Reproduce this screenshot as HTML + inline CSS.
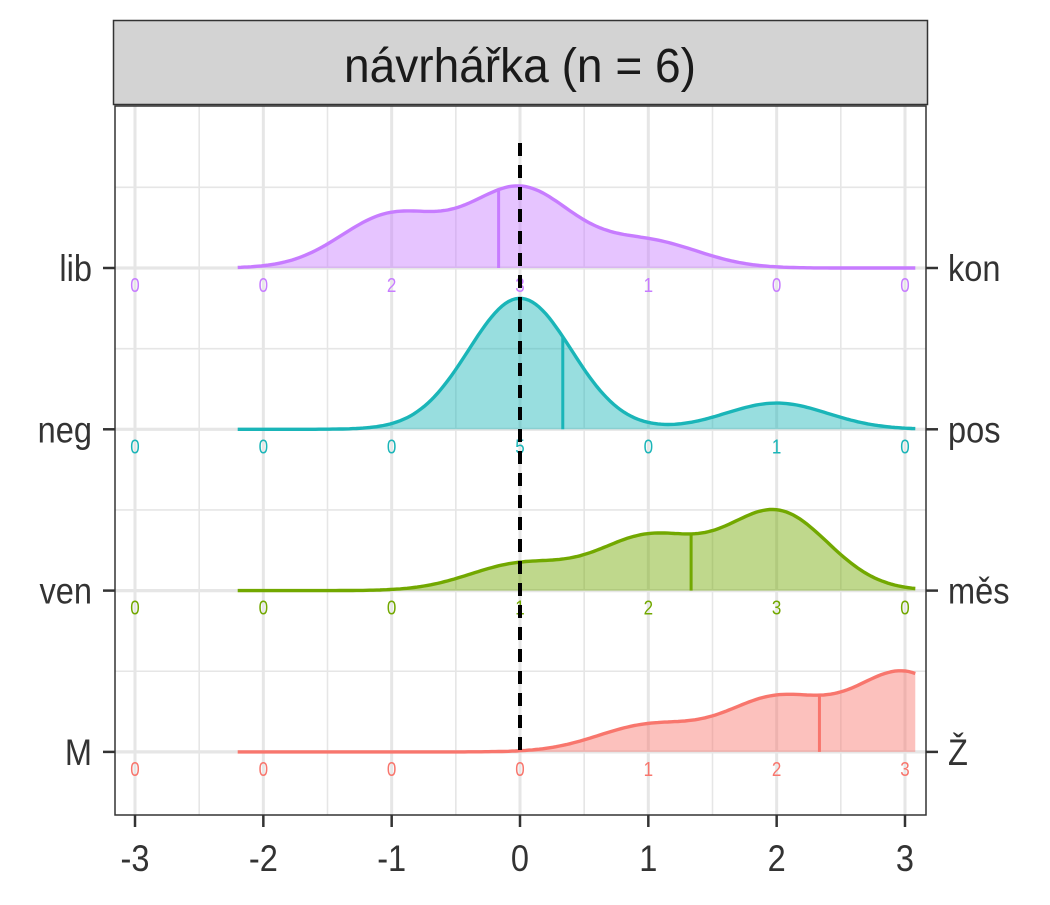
<!DOCTYPE html>
<html><head><meta charset="utf-8"><style>
body{margin:0;background:#fff;}
svg text{font-family:"Liberation Sans",sans-serif;}
</style></head><body>
<svg id="chart" width="1050" height="900" viewBox="0 0 1050 900" xmlns="http://www.w3.org/2000/svg">
<rect x="0" y="0" width="1050" height="900" fill="#fff"/>
<rect x="113.5" y="20.5" width="814" height="84" fill="#d3d3d3" stroke="#333" stroke-width="1.5"/>
<text x="520" y="82" font-size="48" text-anchor="middle" fill="#1a1a1a" transform="translate(520,0) scale(0.96,1) translate(-520,0)">návrhářka (n = 6)</text>
<g id="grid"></g>
<g id="ridges"></g>
<g id="axes"></g>
<rect x="115" y="106" width="811" height="709" fill="none" stroke="#333" stroke-width="1.5"/>
</svg>
<script>
const xTicks = [-3,-2,-1,0,1,2,3];
const leftLabels = ['lib','neg','ven','M'];
const rightLabels = ['kon','pos','měs','Ž'];
const colors = ['#C77CFF','#1AB5B8','#72A800','#F8766D'];
const countsLib = [0,0,2,3,1,0,0];
const countsNeg = [0,0,0,5,0,1,0];
const countsVen = [0,0,0,1,2,3,0];
const countsM = [0,0,0,0,1,2,3];
const allCounts = [countsLib,countsNeg,countsVen,countsM];
const bw = 0.4, xMin = -2.2, xMax = 3.08;

const NS='http://www.w3.org/2000/svg';
const X = v => 520 + v*128.33;
const baseY = i => 268 + i*161.3;
const pxPerUnit = 26.2;
function mk(tag, attrs, parent){const e=document.createElementNS(NS,tag);for(const k in attrs)e.setAttribute(k,attrs[k]);parent.appendChild(e);return e;}
const grid=document.getElementById('grid'), ridges=document.getElementById('ridges'), axes=document.getElementById('axes');

for(let v=-3; v<=3.01; v+=0.5){
  const major = Math.abs(v-Math.round(v))<1e-6;
  const l=mk('line',{x1:X(v),x2:X(v),y1:106,y2:815,stroke:'#e6e6e6','stroke-width':major?3:1.6},grid);
  
  
}
for(let i=-0.5;i<=3.01;i+=0.5){
  const y=baseY(i);
  if(y<106) continue;
  const major = Math.abs(i-Math.round(i))<1e-6;
  const l=mk('line',{x1:115,x2:926,y1:y,y2:y,stroke:'#e6e6e6','stroke-width':major?3.2:1.6},grid);
  
  
}

function dens(counts,x){let s=0;counts.forEach((c,k)=>{const d=(x-xTicks[k])/bw;s+=c*Math.exp(-0.5*d*d);});return s;}

allCounts.forEach((counts,i)=>{
  const by=baseY(i), col=colors[i];
  const pts=[];
  const N=200;
  for(let j=0;j<=N;j++){const x=xMin+(xMax-xMin)*j/N;pts.push([X(x), by-dens(counts,x)*pxPerUnit]);}
  const line=pts.map((p,j)=>(j?'L':'M')+p[0].toFixed(1)+','+p[1].toFixed(1)).join('');
  const area=mk('path',{d:line+`L${X(xMax)},${by}L${X(xMin)},${by}Z`,fill:col,'fill-opacity':0.45,stroke:'none'},ridges);
  
  
  const n=counts.reduce((a,b)=>a+b,0);
  const mean=counts.reduce((a,c,k)=>a+c*xTicks[k],0)/n;
  const ml=mk('line',{x1:X(mean),x2:X(mean),y1:by,y2:by-dens(counts,mean)*pxPerUnit,stroke:col,'stroke-width':3},ridges);
  
  
  const cv=mk('path',{d:line,fill:'none',stroke:col,'stroke-width':3.4},ridges);
  
  
  counts.forEach((c,k)=>{
    const t=mk('text',{x:X(xTicks[k]),y:by+24,'font-size':20,'text-anchor':'middle',fill:col,transform:`translate(${X(xTicks[k])},0) scale(0.85,1) translate(${-X(xTicks[k])},0)`},ridges);
    t.textContent=c;
    
    
  });
});

const dl=mk('line',{x1:X(0),x2:X(0),y1:143,y2:baseY(3),stroke:'#000','stroke-width':4,'stroke-dasharray':'13,9'},ridges);



leftLabels.forEach((lab,i)=>{
  const y=baseY(i);
  const tk=mk('line',{x1:103,x2:115,y1:y,y2:y,stroke:'#333','stroke-width':2.5},axes);
  
  
  const t=mk('text',{x:92,y:y+13,'font-size':37,'text-anchor':'end',fill:'#333',transform:`translate(92,0) scale(0.88,1) translate(-92,0)`},axes);
  t.textContent=lab;
  
  
  const tk2=mk('line',{x1:926,x2:938,y1:y,y2:y,stroke:'#333','stroke-width':2.5},axes);
  
  
  const t2=mk('text',{x:948,y:y+13,'font-size':37,'text-anchor':'start',fill:'#333',transform:`translate(948,0) scale(0.88,1) translate(-948,0)`},axes);
  t2.textContent=rightLabels[i];
  
  
});
xTicks.forEach(v=>{
  const tk=mk('line',{x1:X(v),x2:X(v),y1:815,y2:827,stroke:'#333','stroke-width':2.5},axes);
  
  
  const t=mk('text',{x:X(v),y:871,'font-size':37,'text-anchor':'middle',fill:'#333',transform:`translate(${X(v)},0) scale(0.88,1) translate(${-X(v)},0)`},axes);
  t.textContent=v;
  
  
});
</script>
</body></html>
